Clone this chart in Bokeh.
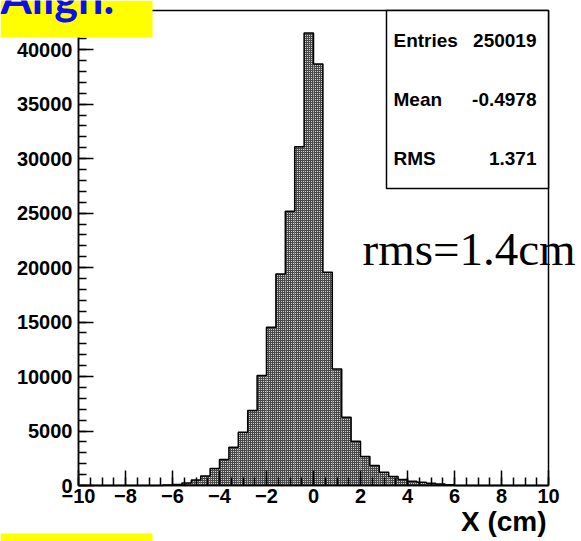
import numpy as np
from bokeh.plotting import figure
from bokeh.models import Range1d, SingleIntervalTicker, Label, BoxAnnotation, NumeralTickFormatter
from bokeh.embed import file_html
from bokeh.resources import INLINE

# ---- data ----
bin_lo = -10.0
bin_hi = 10.0
bin_width = 0.4
counts = [0] * 9 + [40, 90, 220, 500, 880, 1560, 2380, 3510, 4890, 6880,
                    10090, 14520, 19420, 25170, 31100, 41530, 38690, 19570, 10700, 6270,
                    4070, 2660, 1830, 1220, 830, 550, 400, 300, 200, 140,
                    80] + [0] * 10
y_top = 43600
stat_names = ["Entries", "Mean", "RMS"]
stat_values = ["250019", "-0.4978", "1.371"]
x_title = "X (cm)"
corner_title = "Align."
note_text = "rms=1.4cm"

# ---- layout (pixels) ----
W, H = 581, 541
FL, FR, FT, FB = 78, 548, 10, 485   # histogram frame box in canvas pixels
ppx = (FR - FL) / (bin_hi - bin_lo)
ppy = (FB - FT) / y_top
x_range = Range1d(bin_lo - FL / ppx, bin_hi + (W - FR) / ppx)
y_range = Range1d(-(H - FB) / ppy, y_top + FT / ppy)

n = len(counts)
left = [bin_lo + i * bin_width for i in range(n)]
right = [bin_lo + (i + 1) * bin_width for i in range(n)]

p = figure(width=W, height=H, output_backend="svg", toolbar_location=None,
           x_range=x_range, y_range=y_range, min_border=0,
           min_border_left=0, min_border_right=0, min_border_top=0, min_border_bottom=0,
           title=None)
p.background_fill_color = "white"
p.border_fill_color = "white"
p.outline_line_color = None
p.xgrid.visible = False
p.ygrid.visible = False

p.quad(left=left, right=right, bottom=0, top=counts,
       fill_color="#484848", line_color=None,
       hatch_pattern="dot", hatch_color="white", hatch_scale=2, hatch_weight=1)

ox, oy = [left[0]], [0]
for l, r, c in zip(left, right, counts):
    ox += [l, r]
    oy += [c, c]
ox.append(right[-1]); oy.append(0)
p.line(ox, oy, line_color="black", line_width=1.5)

# frame box
p.add_layout(BoxAnnotation(left=bin_lo, right=bin_hi, bottom=0, top=y_top,
                           fill_color=None, line_color="black", line_alpha=1.0,
                           line_width=1.5))

for ax in (p.xaxis, p.yaxis):
    ax.major_tick_in = 15
    ax.major_tick_out = 0
    ax.minor_tick_in = 8
    ax.minor_tick_out = 0
    ax.axis_line_color = "black"
    ax.axis_line_width = 1.5
    ax.major_tick_line_width = 1.5
    ax.minor_tick_line_width = 1.5
    ax.major_label_text_font = "Liberation Sans"
    ax.major_label_text_font_style = "bold"
    ax.major_label_text_font_size = "20px"
    ax.major_label_text_color = "black"
p.xaxis.ticker = SingleIntervalTicker(interval=2, num_minor_ticks=4)
p.yaxis.ticker = SingleIntervalTicker(interval=5000, num_minor_ticks=5)
p.yaxis.formatter = NumeralTickFormatter(format="0")
p.xaxis.fixed_location = 0
p.yaxis.fixed_location = bin_lo
p.xaxis.bounds = (bin_lo, bin_hi)
p.yaxis.bounds = (0, y_top)
p.xaxis.major_label_standoff = 3
p.yaxis.major_label_standoff = 6

# stats box
p.add_layout(BoxAnnotation(left=386, right=548, top=10, bottom=188,
                           left_units="canvas", right_units="canvas",
                           top_units="canvas", bottom_units="canvas",
                           fill_color="white", fill_alpha=1.0,
                           line_color="black", line_alpha=1.0, line_width=1.5))
for k, (nm, vl) in enumerate(zip(stat_names, stat_values)):
    yy = 40 + k * 59
    p.add_layout(Label(x=393, y=yy, x_units="canvas", y_units="canvas", text=nm,
                       text_font="Liberation Sans", text_font_style="bold", text_color="black",
                       text_font_size="19px", text_baseline="middle", text_align="left"))
    p.add_layout(Label(x=536, y=yy, x_units="canvas", y_units="canvas", text=vl,
                       text_font="Liberation Sans", text_font_style="bold", text_color="black",
                       text_font_size="19px", text_baseline="middle", text_align="right"))

# note
p.add_layout(Label(x=362, y=248, x_units="canvas", y_units="canvas", text=note_text,
                   text_font="Liberation Serif", text_font_size="47px", text_color="black",
                   text_baseline="alphabetic", text_align="left"))

# x title
p.add_layout(Label(x=546, y=521, x_units="canvas", y_units="canvas", text=x_title,
                   text_font="Liberation Sans", text_font_style="bold", text_color="black",
                   text_font_size="28px", text_baseline="middle", text_align="right"))

# yellow corner boxes
p.add_layout(BoxAnnotation(left=0, right=152, top=0, bottom=37,
                           left_units="canvas", right_units="canvas",
                           top_units="canvas", bottom_units="canvas",
                           fill_color="#ffff00", fill_alpha=1.0, line_color=None))
p.add_layout(Label(x=0, y=-4, x_units="canvas", y_units="canvas", text=corner_title,
                   text_font="Lato", text_font_style="bold", text_color="#0d0df0",
                   text_font_size="45px", text_baseline="alphabetic", text_align="left"))
p.add_layout(BoxAnnotation(left=0, right=152, top=533, bottom=541,
                           left_units="canvas", right_units="canvas",
                           top_units="canvas", bottom_units="canvas",
                           fill_color="#ffff00", fill_alpha=1.0, line_color=None))

open("out.html", "w").write(file_html(p, INLINE))
